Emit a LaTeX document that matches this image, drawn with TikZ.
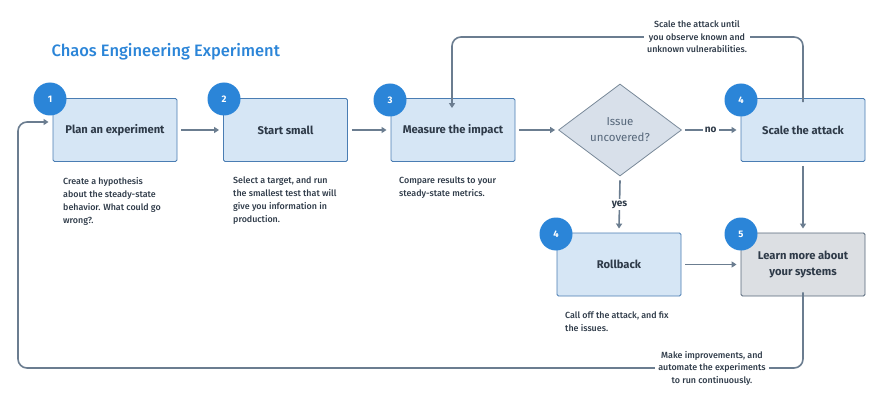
\documentclass[tikz,border=0pt]{standalone}
\usepackage{fontspec}
\setmainfont{Fira Sans}
\newfontfamily\medfont{Fira Sans Medium}
\usetikzlibrary{arrows.meta,shapes.geometric}
\definecolor{boxfill}{HTML}{D6E6F5}
\definecolor{boxline}{HTML}{4A7DB3}
\definecolor{circ}{HTML}{2B85D8}
\definecolor{graybox}{HTML}{DCDFE3}
\definecolor{grayline}{HTML}{56677A}
\definecolor{diafill}{HTML}{D8E0EA}
\definecolor{dialine}{HTML}{7A8A9A}
\definecolor{conn}{HTML}{6B7D90}
\definecolor{txt}{HTML}{2E3A48}
\definecolor{title}{HTML}{2B85D8}
\tikzset{
  stepbox/.style={draw=boxline, line width=0.9pt, fill=boxfill, minimum width=124pt, minimum height=63pt, rounded corners=1.5pt, align=center, font=\fontsize{11.2}{16}\selectfont\bfseries, text=txt, inner sep=0pt},
  graystep/.style={stepbox, draw=grayline, fill=graybox},
  numcirc/.style={circle, fill=circ, minimum size=33pt, inner sep=0pt, text=white, font=\fontsize{9.5}{10}\selectfont\bfseries},
  desc/.style={anchor=north west, align=left, text=txt, font=\medfont\fontsize{8.9}{13}\selectfont, inner sep=0pt},
  cmt/.style={align=center, text=txt, font=\medfont\fontsize{8.9}{12.5}\selectfont, inner sep=0pt},
  conn/.style={draw=conn, line width=1.6pt, -{Triangle[length=5pt,width=6pt]}},
  lab/.style={text=txt, font=\fontsize{10}{10}\selectfont\bfseries, fill=white, inner sep=2pt},
}
\begin{document}
\begin{tikzpicture}[x=1pt,y=-1pt]
\useasboundingbox[fill=white] (0,0) rectangle (880,406);
\node[anchor=west, text=title, font=\medfont\fontsize{16.5}{18}\selectfont] (ttl) at (48,52) {Chaos Engineering Experiment};

\node[stepbox] (b1) at (115,130) {Plan an experiment};
\node[stepbox] (b2) at (285.5,130) {Start small};
\node[stepbox] (b3) at (453,130) {Measure the impact};
\node[diamond, draw=dialine, line width=0.8pt, fill=diafill, minimum width=123pt, minimum height=92pt, inner sep=0pt, aspect=1.34, align=center, text=grayline, font=\fontsize{11.5}{16}\selectfont] (dia) at (620,130) {Issue\\uncovered?};
\node[stepbox] (b4) at (803,130) {Scale the attack};
\node[stepbox] (rb) at (619,264.5) {Rollback};
\node[graystep] (b5) at (803,264.5) {Learn more about\\your systems};

\node[numcirc] (c1) at (50,99) {1};
\node[numcirc] (c2) at (224,99) {2};
\node[numcirc] (c3) at (390,100) {3};
\node[numcirc] (c4) at (741,100) {4};
\node[numcirc] (c4b) at (556,234) {4};
\node[numcirc] (c5) at (741,234) {5};

\node[desc] (d1) at (63,177) {Create a hypothesis\\about the steady-state\\behavior. What could go\\wrong?.};
\node[desc] (d2) at (233,177) {Select a target, and run\\the smallest test that will\\give you information in\\production.};
\node[desc] (d3) at (399,177) {Compare results to your\\steady-state metrics.};
\node[desc] (d4) at (565,312) {Call off the attack, and fix\\the issues.};

\draw[conn] ([xshift=4pt]b1.east) -- ([xshift=-4pt]b2.west);
\draw[conn] ([xshift=4pt]b2.east) -- ([xshift=-4pt]b3.west);
\draw[conn] ([xshift=4pt]b3.east) -- ([xshift=-3pt]dia.west);
\draw[conn] ([xshift=3pt]dia.east) -- node[lab] (no) {no} ([xshift=-4pt]b4.west);
\draw[conn] ([yshift=-4pt]dia.south) -- node[lab] (yes) {yes} ([yshift=4pt]rb.north);
\draw[conn] ([xshift=4pt]rb.east) -- ([xshift=-4pt]b5.west);
\draw[conn] ([yshift=-4pt]b4.south) -- ([yshift=4pt]b5.north);

\coordinate (t1) at (803,37);
\coordinate (t2) at (452,37);
\draw[conn, rounded corners=9pt] ([yshift=-4pt]b4.north) -- (t1) -- (t2) -- ([yshift=-10pt]b3.north -| t2);
\node[cmt, fill=white, inner xsep=3pt] (tc) at (697,37) {Scale the attack until\\you observe known and\\unknown vulnerabilities.};

\coordinate (u1) at (803,368);
\coordinate (u2) at (18,368);
\coordinate (u3) at (18,122);
\draw[conn, rounded corners=9pt] ([yshift=4pt]b5.south) -- (u1) -- (u2) -- (u3) -- ([xshift=-4pt]b1.west |- u3);
\node[cmt, fill=white, inner xsep=3pt] (bc) at (712,368) {Make improvements, and\\automate the experiments\\to run continuously.};
\end{tikzpicture}
\end{document}
